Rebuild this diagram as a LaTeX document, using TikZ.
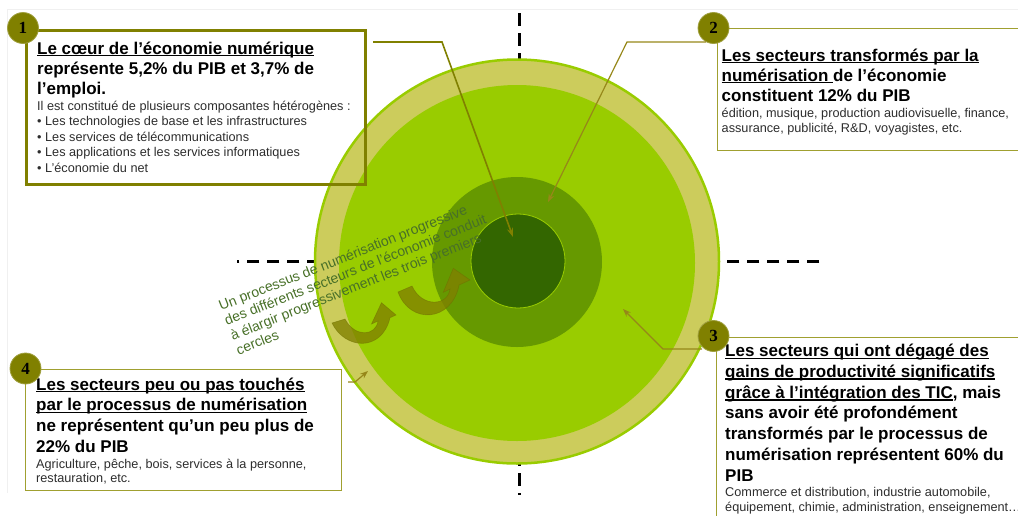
\documentclass[tikz,border=0pt]{standalone}
\usepackage{fontspec}
\setmainfont{Liberation Sans}
\newfontfamily\numfont{Liberation Serif}
\usetikzlibrary{arrows.meta}
\definecolor{ringY}{RGB}{204,204,92}
\definecolor{lgreen}{RGB}{153,204,0}
\definecolor{mgreen}{RGB}{102,153,0}
\definecolor{dgreen}{RGB}{51,102,0}
\definecolor{olv}{RGB}{128,128,0}
\definecolor{olvL}{RGB}{160,160,48}
\definecolor{olvA}{RGB}{150,135,25}
\definecolor{txtG}{RGB}{72,112,40}
\definecolor{smallT}{RGB}{45,45,45}
\newbox\ulbox
\newcommand\ulin[1]{\setbox\ulbox=\hbox{#1}\rlap{\rule[-2.4pt]{\wd\ulbox}{1.3pt}}\box\ulbox}
\newcommand\ttlf{\fontsize{17}{20}\selectfont\bfseries}
\newcommand\smlf{\fontsize{12.7}{15.5}\selectfont\color{smallT}}
\newcommand\rotf{\fontsize{14}{16}\selectfont\color{txtG}}
\begin{document}
\begin{tikzpicture}[x=1pt,y=-1pt,
  numc/.style={circle, fill=olv, draw=olv!75!white, line width=0.8pt, minimum size=31pt, inner sep=0pt,
    font=\numfont\bfseries\fontsize{17}{17}\selectfont},
  txtblock/.style={anchor=base west, inner sep=0pt},
  boxA/.style={draw=olv, line width=3pt},
  boxB/.style={draw=olvL, line width=1.3pt},
  connA/.style={draw=olv, line width=1.6pt, -{Stealth[length=9pt,width=6pt]}},
  connB/.style={draw=olvA, line width=1.2pt, -{Stealth[length=8pt,width=6pt]}},
  dsh/.style={line width=3pt, dash pattern=on 12.6pt off 7.4pt},
  fatarrow/.style={fill=olv, fill opacity=0.78, draw=olv!85!black, draw opacity=0.5, line width=0.6pt}]
\useasboundingbox (0,0) rectangle (1018,515);
% faint frame
\draw[black!6, line width=0.8pt] (7,493) -- (7,9) -- (1018,9);
% dashed axes
\coordinate (hR) at (819.3,261);
\coordinate (hL) at (237,261);
\coordinate (vT) at (519,13);
\coordinate (vB) at (519,495);
\draw[dsh] (hR) -- (hL);
\draw[dsh] (vT) -- (vB);
% circles
\fill[ringY] (517,261.5) circle (202);
\draw[lgreen, line width=2.5pt] (517,261.5) circle (202);
\fill[lgreen] (517,263) circle (178);
\fill[mgreen] (517,262) circle (85);
\filldraw[fill=dgreen, draw=lgreen, line width=0.8pt] (518,261) circle (47);
% boxes
\node[boxA, anchor=north west, minimum width=339pt, minimum height=154pt, inner sep=0pt] (box1) at (25,29) {};
\node[boxB, anchor=north west, minimum width=305pt, minimum height=122pt, inner sep=0pt] (box2) at (717,28) {};
\node[boxB, anchor=north west, minimum width=306pt, minimum height=185pt, inner sep=0pt] (box3) at (716,337) {};
\node[boxB, anchor=north west, minimum width=316pt, minimum height=121pt, inner sep=0pt] (box4) at (25,369) {};
% texts
\node[txtblock] (t1) at (37,54) {\vtop{\lineskiplimit=-\maxdimen\baselineskip=20pt
  \hbox{\ttlf\ulin{Le cœur de l’économie numérique}}
  \hbox{\ttlf représente 5,2\% du PIB et 3,7\% de}
  \hbox{\ttlf l’emploi.}
  \baselineskip=16pt
  \hbox{\smlf Il est constitué de plusieurs composantes hétérogènes :}
  \baselineskip=15.5pt
  \hbox{\smlf • Les technologies de base et les infrastructures}
  \hbox{\smlf • Les services de télécommunications}
  \hbox{\smlf • Les applications et les services informatiques}
  \hbox{\smlf • L'économie du net}}};
\node[txtblock] (t2) at (721.5,61) {\vtop{\lineskiplimit=-\maxdimen\baselineskip=20pt
  \hbox{\ttlf\ulin{Les secteurs transformés par la}}
  \hbox{\ttlf\ulin{numérisation\ }de l’économie}
  \hbox{\ttlf constituent 12\% du PIB}
  \baselineskip=16.5pt
  \hbox{\smlf édition, musique, production audiovisuelle, finance,}
  \baselineskip=15pt
  \hbox{\smlf assurance, publicité, R\&D, voyagistes, etc.}}};
\node[txtblock] (t3) at (725,356.5) {\vtop{\lineskiplimit=-\maxdimen\baselineskip=20.8pt
  \hbox{\ttlf\ulin{Les secteurs qui ont dégagé des}}
  \hbox{\ttlf\ulin{gains de productivité significatifs}}
  \hbox{\ttlf\ulin{grâce à l’intégration des TIC}, mais}
  \hbox{\ttlf sans avoir été profondément}
  \hbox{\ttlf transformés par le processus de}
  \hbox{\ttlf numérisation représentent 60\% du}
  \hbox{\ttlf PIB}
  \baselineskip=15.2pt
  \hbox{\smlf Commerce et distribution, industrie automobile,}
  \hbox{\smlf équipement, chimie, administration, enseignement…}}};
\node[txtblock] (t4) at (36,390) {\vtop{\lineskiplimit=-\maxdimen\baselineskip=20.7pt
  \hbox{\ttlf\ulin{Les secteurs peu ou pas touchés}}
  \hbox{\ttlf\ulin{par le processus de numérisation}}
  \hbox{\ttlf ne représentent qu’un peu plus de}
  \hbox{\ttlf 22\% du PIB}
  \baselineskip=16.3pt
  \hbox{\smlf Agriculture, pêche, bois, services à la personne,}
  \baselineskip=14.3pt
  \hbox{\smlf restauration, etc.}}};
\node[txtblock, rotate=21.5] (tr) at (221,311) {\vtop{\lineskiplimit=-\maxdimen\baselineskip=15.8pt
  \hbox{\rotf Un processus de numérisation progressive}
  \hbox{\rotf des différents secteurs de l’économie conduit}
  \hbox{\rotf à élargir progressivement les trois premiers}
  \hbox{\rotf cercles}}};
% fat curved arrows
\path[fatarrow] (332,323) .. controls (345,350) and (382,352) .. (390,317.7) -- (396,315) -- (381.5,302.7) -- (371.5,324) -- (378,321) .. controls (376,336) and (355,338) .. (345,319) -- cycle;
\path[fatarrow] (398,292) .. controls (410,325) and (452,322) .. (459,285) -- (470,280) -- (453.3,268.3) -- (443.3,292.3) -- (450,289) .. controls (448,306) and (422,308) .. (412,286) -- cycle;
% number circles
\node[numc] (n1) at (23,28) {1};
\node[numc] (n2) at (713.5,28) {2};
\node[numc] (n3) at (713.5,336) {3};
\node[numc] (n4) at (25.5,368.5) {4};
% connectors
\coordinate (c1a) at (373,42);
\coordinate (c1b) at (442,42);
\coordinate (c1e) at (513,237);
\draw[connA] (c1a) -- (c1b) -- (c1e);
\coordinate (c2a) at (706,42);
\coordinate (c2b) at (627,42);
\coordinate (c2e) at (548,202);
\draw[connB] (c2a) -- (c2b) -- (c2e);
\coordinate (c3a) at (702,349);
\coordinate (c3b) at (663,349);
\coordinate (c3e) at (623,309);
\draw[connB] (c3a) -- (c3b) -- (c3e);
\coordinate (c4a) at (348,382);
\coordinate (c4b) at (355,382);
\coordinate (c4e) at (368,371);
\draw[connB] (c4a) -- (c4b) -- (c4e);
\end{tikzpicture}
\end{document}
